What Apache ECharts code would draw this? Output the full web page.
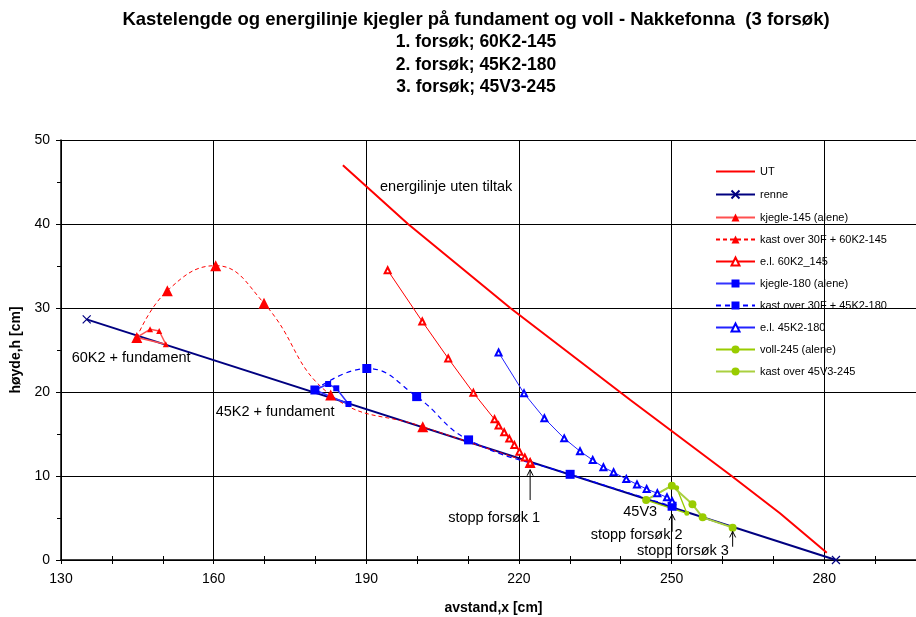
<!DOCTYPE html>
<html><head><meta charset="utf-8">
<script src="https://cdn.jsdelivr.net/npm/echarts@6/dist/echarts.min.js"></script>
<style>html,body{margin:0;padding:0;background:#fff}#c{width:916px;height:617px}</style>
</head><body><div id="c"></div>
<script>
// ---- data ----
const titleLines = [
  'Kastelengde og energilinje kjegler på fundament og voll - Nakkefonna  (3 forsøk)',
  '1. forsøk; 60K2-145',
  '2. forsøk; 45K2-180',
  '3. forsøk; 45V3-245'
];
const xAxisName = 'avstand,x [cm]';
const yAxisName = 'høyde,h [cm]';

const utData = [[185.4,47.0],[198.2,40.0],[218.3,30.0],[241.9,19.05],[261.8,10.0],[271.3,5.56],[280.5,0.87]];
const renneData = [[135.05,28.65],[282.3,0.0]];
const kjegle145 = [[144.9,26.5],[147.5,27.46],[149.3,27.26],[150.6,25.68],[144.9,26.5]];
const kast60K2 = [[144.9,26.5],[150.9,32.06],[160.4,35.04],[169.9,30.56],[183.0,19.64],[201.1,15.87],[222.2,11.6]];
const el60K2 = [[194.2,34.5],[201.0,28.4],[206.1,24.0],[211.05,19.9],[215.2,16.75],[216.0,16.0],[217.1,15.2],[218.1,14.45],[219.1,13.7],[220.1,12.9],[221.15,12.2],[222.2,11.6]];
const kjegle180 = [[179.9,20.24],[182.5,20.95],[184.1,20.44],[186.5,18.57],[179.9,20.24]];
const kast45K2 = [[179.9,20.24],[190.1,22.8],[199.9,19.45],[210.1,14.3],[230.06,10.2],[250.1,6.4]];
const el45K2 = [[216.0,24.7],[221.0,19.84],[225.0,16.87],[228.9,14.48],[232.0,12.95],[234.5,11.9],[236.6,11.04],[238.6,10.44],[241.1,9.64],[243.2,9.0],[245.1,8.45],[247.2,7.94],[249.1,7.46],[250.1,7.0]];
const voll245 = [[245.0,7.14],[250.05,8.85],[251.0,8.6],[253.0,5.56],[245.0,7.14]];
const kast45V3 = [[245.0,7.14],[250.05,8.85],[254.1,6.63],[256.1,5.08],[262.0,3.85]];

const seriesNames = ['UT','renne','kjegle-145 (alene)','kast over 30F + 60K2-145','e.l. 60K2_145',
  'kjegle-180 (alene)','kast over 30F + 45K2-180','e.l. 45K2-180','voll-245 (alene)','kast over 45V3-245'];

// annotations: [text, x, h] (left edge, vertical middle)
const notes = [
  ['energilinje uten tiltak', 192.7, 44.4],
  ['60K2 + fundament', 132.1, 24.1],
  ['45K2 + fundament', 160.4, 17.65],
  ['stopp forsøk 1', 206.1, 4.96],
  ['45V3', 240.5, 5.75],
  ['stopp forsøk 2', 234.1, 2.98],
  ['stopp forsøk 3', 243.2, 1.1]
];
// arrows: [x, hFrom, hTo]
const arrows = [[222.2, 7.14, 10.75],[250.1, 3.37, 5.45],[262.0, 1.58, 3.4]];

// ---- chart ----
const FONT = 'Liberation Sans, Arial, sans-serif';
const chart = echarts.init(document.getElementById('c'), null, {renderer:'canvas'});

function line(name, data, o) {
  return Object.assign({
    name, type:'line', data, xAxisIndex:0, yAxisIndex:0,
    animation:false, showSymbol:true, symbol:'none', symbolSize:6, clip:false,
    emphasis:{disabled:true}
  }, o);
}

const option = {
  backgroundColor:'#fff',
  animation:false,
  title: titleLines.map((t,i)=>({
    text:t, left:471, top:(i===0?5:6)+i*22.5, textAlign:'center',
    textStyle:{fontFamily:FONT, fontSize:(i===0?18.5:17.5), fontWeight:'bold', color:'#000'}
  })),
  grid:{left:61, top:140, width:865, height:420, containLabel:false, outerBoundsMode:'none'},
  legend:{
    orient:'vertical', left:710, top:161, itemWidth:39, itemHeight:10, itemGap:11,
    textStyle:{fontFamily:FONT, fontSize:11, color:'#000'}, selectedMode:false,
    data: seriesNames.map((n,i)=> i===0 ? {name:n, itemStyle:{opacity:0}} : {name:n})
  },
  xAxis:[
    {type:'value', min:130, max:300, interval:30,
      axisLine:{onZero:false, lineStyle:{color:'#000', width:1.5}},
      axisTick:{show:false},
      splitLine:{show:true, lineStyle:{color:'#000', width:1}},
      axisLabel:{fontFamily:FONT, fontSize:14, color:'#000', margin:12,
        formatter:v=> (v<=280 ? String(v) : '')},
      name:xAxisName, nameLocation:'middle', nameGap:41,
      nameTextStyle:{fontFamily:FONT, fontSize:14, fontWeight:'bold', color:'#000'}
    },
    {type:'value', min:130, max:300, interval:10, position:'bottom',
      axisLine:{show:false}, axisLabel:{show:false}, splitLine:{show:false},
      axisTick:{show:true, inside:false, length:4, lineStyle:{color:'#000'}}},
    {type:'value', min:130, max:300, interval:10, position:'bottom',
      axisLine:{show:false}, axisLabel:{show:false}, splitLine:{show:false},
      axisTick:{show:true, inside:true, length:4, lineStyle:{color:'#000'}}}
  ],
  yAxis:[
    {type:'value', min:0, max:50, interval:10,
      axisLine:{show:true, lineStyle:{color:'#000', width:1.5}},
      axisTick:{show:true, length:5, lineStyle:{color:'#000'}},
      minorTick:{show:true, splitNumber:2, length:4, lineStyle:{color:'#000'}},
      splitLine:{show:true, lineStyle:{color:'#000', width:1}},
      axisLabel:{fontFamily:FONT, fontSize:14, color:'#000', margin:11},
      name:yAxisName, nameLocation:'middle', nameGap:36, nameRotate:90,
      nameTextStyle:{fontFamily:FONT, fontSize:14, fontWeight:'bold', color:'#000'}
    }
  ],
  series:[
    line(seriesNames[0], utData, {color:'#FF0000', lineStyle:{color:'#FF0000', width:2}}),
    line(seriesNames[1], renneData, {symbol:'path://M0,0L10,10M10,0L0,10', symbolSize:8, color:'#000080',
      itemStyle:{color:'none', borderColor:'#000080', borderWidth:1.2}, lineStyle:{color:'#000080', width:2}}),
    line(seriesNames[2], kjegle145, {symbol:'triangle', symbolSize:6, color:'#FF0000',
      itemStyle:{color:'#FF0000'}, lineStyle:{color:'#FF5050', width:1.5}}),
    line(seriesNames[3], kast60K2, {symbol:'triangle', symbolSize:11, smooth:0.45, color:'#FF0000',
      itemStyle:{color:'#FF0000'}, lineStyle:{color:'#FF0000', width:1, type:[4,3]}}),
    line(seriesNames[4], el60K2, {symbol:'emptyTriangle', symbolSize:6, color:'#FF0000',
      itemStyle:{color:'#FF0000', borderWidth:1}, lineStyle:{color:'#FF0000', width:1}}),
    line(seriesNames[5], kjegle180, {symbol:'rect', symbolSize:6, color:'#0000FF',
      itemStyle:{color:'#0000FF'}, lineStyle:{color:'#3333FF', width:1.5}}),
    line(seriesNames[6], kast45K2, {symbol:'rect', symbolSize:9, smooth:0.45, color:'#0000FF',
      itemStyle:{color:'#0000FF'}, lineStyle:{color:'#0000FF', width:1.2, type:[5,4]}}),
    line(seriesNames[7], el45K2, {symbol:'emptyTriangle', symbolSize:6, color:'#0000FF',
      itemStyle:{color:'#0000FF', borderWidth:1}, lineStyle:{color:'#2222FF', width:1}}),
    line(seriesNames[8], voll245, {symbol:'circle', symbolSize:5, color:'#99CC00',
      itemStyle:{color:'#99CC00'}, lineStyle:{color:'#99CC00', width:1.3}}),
    line(seriesNames[9], kast45V3, {symbol:'circle', symbolSize:8, color:'#99CC00',
      itemStyle:{color:'#99CC00'}, lineStyle:{color:'#AAD040', width:2}})
  ]
};
chart.setOption(option);

// annotations positioned through the chart's own scales
const g = [];
notes.forEach(([t,x,h])=>{
  const p = chart.convertToPixel({xAxisIndex:0, yAxisIndex:0}, [x,h]);
  g.push({type:'text', x:p[0], y:p[1], z:50, silent:true,
    style:{text:t, font:'14.5px '+FONT, fill:'#000', textVerticalAlign:'middle', textAlign:'left'}});
});
arrows.forEach(([x,h0,h1])=>{
  const a = chart.convertToPixel({xAxisIndex:0, yAxisIndex:0}, [x,h0]);
  const b = chart.convertToPixel({xAxisIndex:0, yAxisIndex:0}, [x,h1]);
  g.push({type:'line', z:50, silent:true, shape:{x1:a[0], y1:a[1], x2:b[0], y2:b[1]},
    style:{stroke:'#000', lineWidth:1}});
  g.push({type:'polyline', z:50, silent:true,
    shape:{points:[[b[0]-3,b[1]+6],[b[0],b[1]],[b[0]+3,b[1]+6]]},
    style:{stroke:'#000', lineWidth:1, fill:null}});
});
chart.setOption({graphic:g});
</script>
</body></html>
